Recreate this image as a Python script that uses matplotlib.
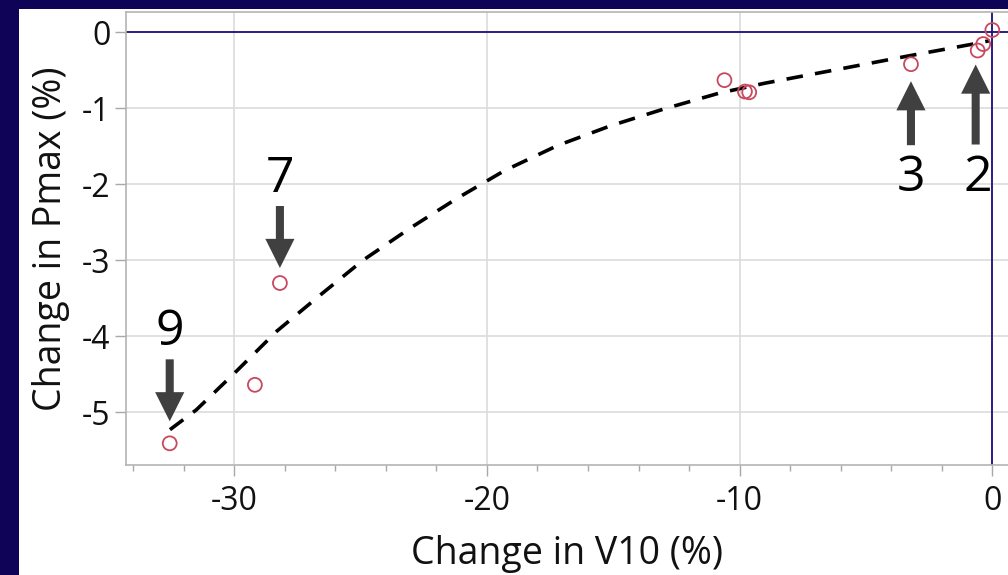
import matplotlib
matplotlib.use("Agg")
import matplotlib.pyplot as plt
from matplotlib.patches import Rectangle
from matplotlib.ticker import MultipleLocator
from matplotlib.transforms import offset_copy

# Measured change in V10 vs. change in Pmax (percent)
v10_change = [-32.55, -29.18, -28.19, -10.6, -9.79, -9.62, -3.22, -0.58, -0.36, 0.0]
pmax_change = [-5.41, -4.64, -3.30, -0.63, -0.78, -0.79, -0.42, -0.24, -0.155, 0.03]

# Fitted trend curve
fit_x = [-32.54, -31.5, -30.0, -28.3, -26.6, -24.9, -23.0, -21.2, -19.3,
         -17.2, -15.1, -13.0, -10.8, -9.0, -6.3, -3.3, -0.6, -0.1]
fit_y = [-5.23, -4.97, -4.49, -3.93, -3.46, -3.00, -2.57, -2.19, -1.82,
         -1.49, -1.23, -1.01, -0.80, -0.67, -0.50, -0.31, -0.145, -0.11]

# Annotated samples
callout_labels = ["9", "7", "3", "2"]
callout_x = [-32.55, -28.19, -3.22, -0.58]
callout_y = [-5.41, -3.30, -0.42, -0.24]

x_ticks = [-30, -20, -10, 0]
y_ticks = [0, -1, -2, -3, -4, -5]

plt.rcParams["font.family"] = ["Open Sans", "DejaVu Sans"]

W, H = 1008, 575
fig = plt.figure(figsize=(W / 100, H / 100), dpi=100)
fig.patch.set_facecolor("#0f0358")
fig.add_artist(Rectangle((19 / W, 0), 1 - 19 / W, (H - 9) / H,
                         transform=fig.transFigure, facecolor="white",
                         edgecolor="none", zorder=0))

ax = fig.add_axes([126 / W, (H - 464.6) / H, (W - 126) / W, (464.6 - 12) / H])
ax.set_facecolor("white")
ax.set_xlim(-34.28, 0.62)
ax.set_ylim(-5.69, 0.267)

ax.xaxis.set_minor_locator(MultipleLocator(2))
ax.set_xticks(x_ticks)
ax.set_xticklabels([str(v) for v in x_ticks])
ax.set_yticks(y_ticks)
ax.set_yticklabels([str(v) for v in y_ticks])

ax.grid(True, which="major", color="#dcdcdc", linewidth=1.2, zorder=0)
for side in ["left", "bottom", "top"]:
    ax.spines[side].set_color("#b4b4b4")
    ax.spines[side].set_linewidth(1.2)
ax.spines["right"].set_visible(False)

ax.tick_params(axis="both", which="major", length=8, width=1, color="#a8a8a8",
               labelsize=23, labelcolor="#111111")
ax.tick_params(axis="x", which="major", pad=7)
ax.tick_params(axis="y", which="major", pad=3)
ax.tick_params(axis="x", which="minor", length=4, width=1, color="#a8a8a8")

ax.set_xlabel("Change in V10 (%)", fontsize=27, color="#111111", labelpad=12)
ax.set_ylabel("Change in Pmax (%)", fontsize=27, color="#111111", labelpad=9)

# Reference lines at zero
ax.axhline(0, color="#1c1078", linewidth=1.3, zorder=2)
ax.axvline(0, color="#1c1078", linewidth=1.3, zorder=2)

ax.plot(fit_x, fit_y, linestyle=(0, (4.6, 3.4)), color="black", linewidth=2.6,
        zorder=3, dash_capstyle="butt")
ax.scatter(v10_change, pmax_change, s=100, facecolors="none",
           edgecolors="#c9485e", linewidths=1.3, zorder=4)

# Callout arrows: pixel offsets (arrow tail, arrow tip, label centre) from each point
callout_offsets = {
    "9": dict(tail=(0, 84), tip=(0, 22), text=(0, 111)),
    "7": dict(tail=(0, 77), tip=(0, 15), text=(0, 104)),
    "3": dict(tail=(0, -81), tip=(0, -17), text=(0, -114)),
    "2": dict(tail=(-2, -94), tip=(-2, -14), text=(0, -128)),
}
for lab, px, py in zip(callout_labels, callout_x, callout_y):
    off = callout_offsets[lab]
    tip_tr = offset_copy(ax.transData, fig=fig, x=off["tip"][0], y=off["tip"][1],
                         units="dots")
    tail_tr = offset_copy(ax.transData, fig=fig, x=off["tail"][0], y=off["tail"][1],
                          units="dots")
    ax.annotate("", xy=(px, py), xycoords=tip_tr,
                xytext=(px, py), textcoords=tail_tr,
                annotation_clip=False, zorder=5,
                arrowprops=dict(width=5.8, headwidth=21, headlength=21,
                                shrink=0, facecolor="#404040",
                                edgecolor="#404040", linewidth=0))
    ax.annotate(lab, xy=(px, py), xytext=off["text"], textcoords="offset pixels",
                ha="center", va="center", fontsize=36, color="black",
                annotation_clip=False, zorder=5)

fig.savefig("out.png", dpi=100, facecolor=fig.get_facecolor())
